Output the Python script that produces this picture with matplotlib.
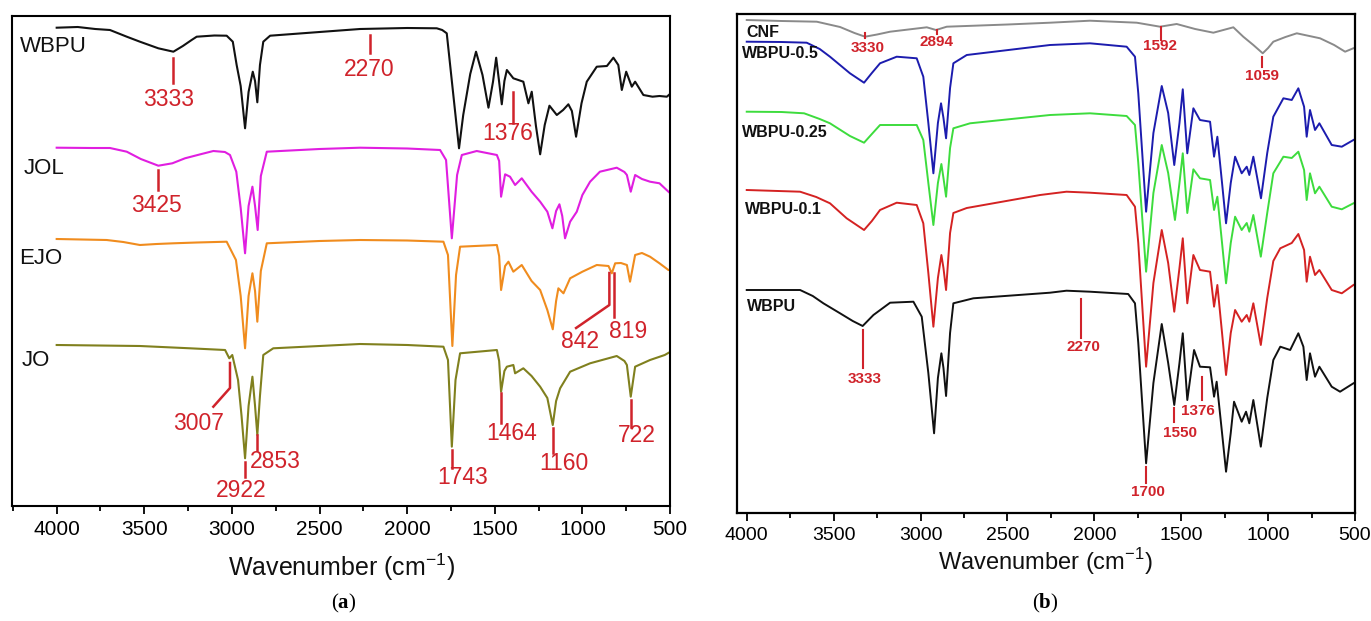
import matplotlib
matplotlib.use('Agg')
import matplotlib.pyplot as plt
from matplotlib.ticker import MultipleLocator

plt.rcParams['font.family'] = ['Liberation Sans', 'DejaVu Sans']
plt.rcParams['mathtext.fontset'] = 'custom'
plt.rcParams['mathtext.rm'] = 'Liberation Sans'
plt.rcParams['mathtext.bf'] = 'Liberation Serif:bold'

RED = '#d0232b'

# ---------------- Panel (a) data (offset transmittance, a.u.) ----------------
a_wbpu_wn = [4000, 3880, 3780, 3696, 3600, 3525, 3420, 3334, 3280, 3230, 3201, 3100, 3030, 2995, 2973, 2950,
             2925, 2905, 2881, 2868, 2855, 2840, 2821, 2782, 2500, 2269, 2000, 1831, 1800, 1774, 1745, 1704,
             1680, 1640, 1607, 1570, 1536, 1510, 1492, 1475, 1460, 1445, 1431, 1394, 1337, 1308, 1289, 1265,
             1241, 1215, 1188, 1146, 1110, 1080, 1060, 1036, 1005, 975, 918, 860, 823, 795, 775, 750, 718,
             699, 652, 600, 560, 518, 500]
a_wbpu_T = [478.3, 479, 477, 476, 469.3, 464.3, 457.7, 454.3, 460, 466, 469.3, 470.5, 470.3, 464.3, 441, 420,
            377.7, 414, 434.3, 425, 403.7, 441, 464.3, 470.3, 474, 477, 478, 477.7, 476, 472.7, 425, 357.7,
            391, 432, 454.3, 431, 398.3, 424.3, 448.3, 424, 401.7, 425, 436, 427.7, 424.3, 402.7, 414.3, 380,
            351.7, 381, 400.3, 391, 396, 401.7, 395, 369.3, 402.7, 424.3, 439.3, 440, 448.3, 441, 416, 434.3, 419.3,
            424.3, 411, 409.3, 410, 409.3, 412]

a_jol_wn = [4000, 3800, 3696, 3600, 3520, 3420, 3340, 3268, 3180, 3106, 3040, 3011, 2975, 2950, 2925, 2905,
            2883, 2868, 2853, 2835, 2801, 2500, 2269, 2000, 1812, 1778, 1745, 1715, 1688, 1603, 1488, 1475,
            1464, 1441, 1413, 1384, 1346, 1290, 1241, 1200, 1171, 1150, 1131, 1115, 1099, 1070, 1032, 1000,
            956, 900, 804, 760, 746, 724, 699, 660, 614, 560, 509, 500]
a_jol_T = [358.3, 358, 358, 354.3, 347, 340.3, 342.7, 347.7, 351.7, 355, 354, 351, 334.3, 298, 252.7, 300,
           319.3, 300, 276, 330, 354.3, 357, 358.3, 357.5, 356, 346, 267.7, 331, 351, 355, 351, 345,
           309.3, 331.7, 329.3, 321, 327.7, 314.3, 304.3, 294.3, 277.7, 295, 301.7, 290, 267.7, 284.3, 294.3, 311,
           324.3, 334.3, 338.3, 334, 331, 314.3, 331, 327, 324.3, 322.7, 314.3, 313]

a_ejo_wn = [4000, 3715, 3620, 3525, 3430, 3334, 3200, 3030, 2977, 2950, 2925, 2905, 2883, 2868, 2855, 2835,
            2801, 2500, 2269, 2000, 1793, 1767, 1742, 1721, 1698, 1488, 1475, 1464, 1441, 1422, 1394, 1346,
            1290, 1241, 1200, 1169, 1150, 1137, 1108, 1070, 1000, 918, 851, 832, 813, 780, 746, 728, 699,
            660, 614, 560, 509, 500]
a_ejo_T = [267, 266, 264, 261, 262, 262.7, 263.5, 264.3, 246, 210, 157.7, 210, 232.7, 215, 184.3, 235,
           262.7, 265, 266, 265.5, 264.3, 251, 160, 231, 259.3, 261, 250, 216, 240, 244.3, 234.3, 241,
           225, 216, 196, 176.7, 205, 217.7, 212.7, 227.7, 234.3, 241, 240, 232.7, 242.7, 243, 241, 224.3, 251,
           253, 249.3, 242.7, 236, 236]

a_jo_wn = [4000, 3525, 3239, 3039, 3015, 2998, 2965, 2945, 2925, 2905, 2883, 2868, 2855, 2840, 2821, 2764,
           2500, 2269, 2000, 1793, 1767, 1745, 1724, 1698, 1488, 1475, 1464, 1445, 1431, 1394, 1384, 1337,
           1290, 1241, 1200, 1169, 1150, 1127, 1070, 956, 804, 760, 746, 724, 699, 614, 530, 500]
a_jo_T = [161, 160, 157.7, 156, 147.7, 151, 126, 90, 47.7, 100, 129.3, 100, 71, 110, 151, 157.7,
          160, 162, 161, 159.3, 146, 59.3, 126, 152.7, 156, 145, 114.3, 135, 139.3, 141, 132.7, 137.7,
          130, 119.3, 108, 81, 105, 117.7, 134.3, 142.7, 150, 145, 141, 109.3, 139.3, 146, 151, 154]

a_names = ['WBPU', 'JOL', 'EJO', 'JO']
a_colors = ['#111111', '#e01ee0', '#f08c1e', '#80801e']
a_name_wn = [4212, 4188, 4212, 4200]
a_name_T = [459, 338, 247, 145.5]

a_ann_text = ['3333', '2270', '1376', '3425', '842', '819', '3007', '2922', '2853', '1743', '1464', '1160', '722']
a_ann_line_wn = [[3334, 3334], [2212, 2212], [1394, 1394], [3420, 3420], [846, 846, 1036], [819, 819],
                 [3011, 3011, 3106], [2925, 2925], [2855, 2855], [1745, 1745], [1464, 1464], [1166, 1166], [724, 724]]
a_ann_line_T = [[447.7, 422.7], [471, 452.7], [414.3, 382.7], [336, 316], [233, 201, 178], [233, 189],
                [143, 118, 99.3], [44.3, 29.3], [71, 56], [56, 37.7], [113, 83], [78, 53], [106, 79.3]]
a_ann_text_wn = [3359, 2217, 1424, 3429, 1011, 739, 3192, 2948, 2754, 1686, 1403, 1104, 688]
a_ann_text_T = [406, 436, 373, 300.5, 164, 175, 83, 15.5, 44.3, 28, 72, 43, 70]

# ---------------- Panel (b) data ----------------
b_cnf_wn = [4000, 3800, 3597, 3463, 3380, 3319, 3250, 3175, 2964, 2911, 2849, 2500, 2255, 2025, 1756, 1622,
            1526, 1420, 1315, 1200, 1143, 1085, 1031, 1000, 970, 900, 835, 701, 620, 557, 510]
b_cnf_T = [493, 492, 491.3, 486, 480, 476.3, 478.5, 481.3, 485.7, 483, 486.3, 488.5, 490.3, 492.3, 490.3, 486.3,
           489, 484, 480.3, 485.7, 476.3, 468, 459.7, 465, 471.3, 476, 479.7, 474.7, 468, 461.3, 464.7]

b_w05_wn = [4000, 3800, 3655, 3580, 3521, 3406, 3325, 3280, 3233, 3137, 3022, 2984, 2955, 2926, 2900, 2882,
            2868, 2853, 2830, 2811, 2734, 2255, 2025, 1814, 1766, 1747, 1702, 1660, 1612, 1575, 1540, 1510,
            1491, 1465, 1430, 1392, 1334, 1311, 1292, 1265, 1242, 1215, 1190, 1152, 1123, 1108, 1085, 1041,
            1005, 970, 912, 864, 826, 793, 778, 759, 730, 705, 634, 576, 509]
b_w05_T = [471.3, 471, 470.3, 464, 456.3, 439.7, 430.3, 440, 449.7, 456.3, 454.7, 436.3, 390, 339.7, 390, 409.7,
           395, 374.7, 425, 449.7, 458, 468, 469.7, 466.3, 456.3, 419.7, 301.3, 380, 427, 400, 348, 390,
           423.7, 359.7, 404.7, 393, 391.3, 356.3, 376.3, 330, 289.7, 330, 356.3, 339.7, 346.3, 338, 356.3, 314.7,
           360, 396.3, 414.7, 413, 424.7, 406.3, 376.3, 403, 383, 389.7, 368, 366.3, 373]

b_w025_wn = [4000, 3800, 3670, 3580, 3521, 3406, 3325, 3280, 3233, 3022, 2984, 2955, 2926, 2900, 2880, 2868,
             2853, 2830, 2811, 2715, 2255, 2025, 1814, 1766, 1747, 1702, 1660, 1612, 1575, 1536, 1510, 1491,
             1465, 1430, 1392, 1334, 1311, 1292, 1265, 1242, 1215, 1190, 1152, 1123, 1108, 1085, 1042, 1005,
             970, 912, 864, 826, 793, 778, 759, 730, 705, 634, 576, 509]
b_w025_T = [401.3, 401, 399.7, 394, 389.7, 377, 370.3, 379, 388, 388, 373, 330, 288, 330, 349, 335,
            316.3, 365, 384.7, 389.7, 398, 399.7, 397, 388, 350, 241.3, 320, 368, 340, 293, 330, 359.7,
            300, 343.7, 334.7, 333, 303, 316.3, 270, 229.7, 270, 296.3, 283, 290, 281.3, 298, 256.3, 300,
            339.7, 356.3, 355, 361.3, 343, 313, 339.7, 319.7, 326.3, 306.3, 303.7, 309.7]

b_w01_wn = [4000, 3693, 3600, 3521, 3425, 3325, 3280, 3233, 3137, 3022, 2984, 2955, 2926, 2900, 2880, 2868,
            2853, 2830, 2811, 2734, 2312, 2160, 2025, 1814, 1766, 1747, 1702, 1660, 1612, 1575, 1540, 1510,
            1491, 1465, 1430, 1392, 1334, 1311, 1292, 1265, 1242, 1215, 1190, 1152, 1123, 1108, 1085, 1042,
            1005, 970, 930, 864, 826, 793, 778, 759, 730, 705, 634, 576, 509]
b_w01_T = [323, 321.3, 316, 309.7, 294.7, 283, 292, 303, 310.3, 308, 289.7, 240, 186.3, 235, 258, 245,
           223, 280, 300, 305, 318, 321.3, 320.3, 318, 306.3, 270, 146.3, 230, 283, 250, 201.3, 245,
           274.7, 209.7, 258, 243, 241.3, 206.3, 228, 180, 138, 180, 203, 191.3, 198, 191.3, 209.7, 168,
           215, 252, 264.7, 270, 279, 263, 231.3, 256.3, 238, 243, 223, 219.7, 228]

b_wbpu_wn = [4000, 3693, 3620, 3559, 3463, 3390, 3333, 3271, 3175, 3041, 2993, 2955, 2922, 2900, 2880, 2868,
             2853, 2830, 2811, 2696, 2255, 2160, 2025, 1805, 1766, 1747, 1702, 1660, 1612, 1575, 1540, 1510,
             1491, 1465, 1426, 1392, 1334, 1311, 1296, 1265, 1242, 1215, 1196, 1152, 1127, 1108, 1085, 1042,
             1005, 970, 930, 873, 826, 797, 778, 759, 730, 705, 634, 586, 509]
b_wbpu_T = [223, 223, 217, 209.7, 199.7, 192, 187, 198, 210.3, 211.3, 196.3, 140, 79.7, 135, 159.7, 145,
            117, 180, 209.7, 214.7, 220.3, 222.3, 221.3, 219, 209.7, 170, 49.7, 130, 189, 150, 108, 150,
            179.7, 113, 163, 146.3, 145.7, 116.3, 131.3, 80, 41.3, 80, 111.3, 91.3, 101.3, 89.7, 113, 66.3,
            115, 153, 166.3, 163, 179.7, 166.3, 133, 159.7, 136.3, 146.3, 126.3, 121.3, 129.7]

b_names = ['CNF', 'WBPU-0.5', 'WBPU-0.25', 'WBPU-0.1', 'WBPU']
b_colors = ['#8a8a8a', '#1c1cae', '#3ddc3d', '#d42222', '#111111']
b_name_wn = [4000, 4029, 4029, 4010, 4000]
b_name_T = [480.5, 459, 380.5, 304, 206.3]

b_ann_text = ['3330', '2894', '1592', '1059', '3333', '2270', '1700', '1550', '1376']
b_ann_line_wn = [[3319, 3319], [2907, 2907], [1618, 1618], [1037, 1037], [3333, 3333], [2078, 2078],
                 [1702, 1702], [1540, 1540], [1382, 1382]]
b_ann_line_T = [[480, 475], [483, 479], [485.7, 473], [456.3, 446.3], [183, 144.7], [213.7, 174.7],
                [46, 30], [105, 91.3], [136.3, 113]]
b_ann_text_wn = [3304, 2907, 1622, 1037, 3319, 2065, 1693, 1509, 1405]
b_ann_text_T = [465.5, 470.5, 467, 437.5, 134, 166.3, 21, 80, 102]

# ---------------- Figure ----------------
fig = plt.figure(figsize=(13.71, 6.21), dpi=100)
W, H = 1371, 621


def make_axes(l, t, r, b):
    return fig.add_axes([l / W, 1 - b / H, (r - l) / W, (b - t) / H])


def style(ax, xl, yl, fs, lw):
    ax.set_xlim(*xl)
    ax.set_ylim(*yl)
    ax.xaxis.set_major_locator(MultipleLocator(500))
    ax.xaxis.set_minor_locator(MultipleLocator(250))
    ax.tick_params(axis='x', which='major', direction='out', length=6, width=1.3, labelsize=fs, pad=4)
    ax.tick_params(axis='x', which='minor', direction='out', length=3.5, width=1.3)
    ax.set_yticks([])
    for s in ax.spines.values():
        s.set_linewidth(lw)


# Panel (a)
axa = make_axes(12, 16, 670, 506)
style(axa, (4255, 500), (0, 490), 15, 1.5)
for wn, T, c in zip([a_wbpu_wn, a_jol_wn, a_ejo_wn, a_jo_wn], [a_wbpu_T, a_jol_T, a_ejo_T, a_jo_T], a_colors):
    axa.plot(wn, T, color=c, lw=1.5, solid_joinstyle='round')
for n, x, y in zip(a_names, a_name_wn, a_name_T):
    axa.text(x, y, n, fontsize=16, ha='left', va='center', color='#111111')
for txt, lx, ly, tx, ty in zip(a_ann_text, a_ann_line_wn, a_ann_line_T, a_ann_text_wn, a_ann_text_T):
    axa.plot(lx, ly, color=RED, lw=1.8)
    axa.text(tx, ty, txt, fontsize=16.5, ha='center', va='center', color=RED)

# Panel (b)
axb = make_axes(737, 14, 1355, 513)
style(axb, (4056, 500), (0, 499), 14, 1.6)
for wn, T, c in zip([b_cnf_wn, b_w05_wn, b_w025_wn, b_w01_wn, b_wbpu_wn],
                    [b_cnf_T, b_w05_T, b_w025_T, b_w01_T, b_wbpu_T], b_colors):
    axb.plot(wn, T, color=c, lw=1.4, solid_joinstyle='round')
for n, x, y in zip(b_names, b_name_wn, b_name_T):
    axb.text(x, y, n, fontsize=11.5, fontweight='bold', ha='left', va='center', color='#111111')
for txt, lx, ly, tx, ty in zip(b_ann_text, b_ann_line_wn, b_ann_line_T, b_ann_text_wn, b_ann_text_T):
    axb.plot(lx, ly, color=RED, lw=1.5)
    axb.text(tx, ty, txt, fontsize=11, fontweight='bold', ha='center', va='center', color=RED)

# axis titles and captions
fig.text(342 / W, 1 - 567.5 / H, r'Wavenumber (cm$^{-1}$)', fontsize=18, ha='center', va='center', color='#111111')
fig.text(1045 / W, 1 - 561.7 / H, r'Wavenumber (cm$^{-1}$)', fontsize=17, ha='center', va='center', color='#111111')
fig.text(344 / W, 1 - 603 / H, r'($\mathbf{a}$)', fontsize=15, family='Liberation Serif', ha='center', va='center')
fig.text(1045 / W, 1 - 603 / H, r'($\mathbf{b}$)', fontsize=15, family='Liberation Serif', ha='center', va='center')

fig.savefig('out.png', dpi=100)
